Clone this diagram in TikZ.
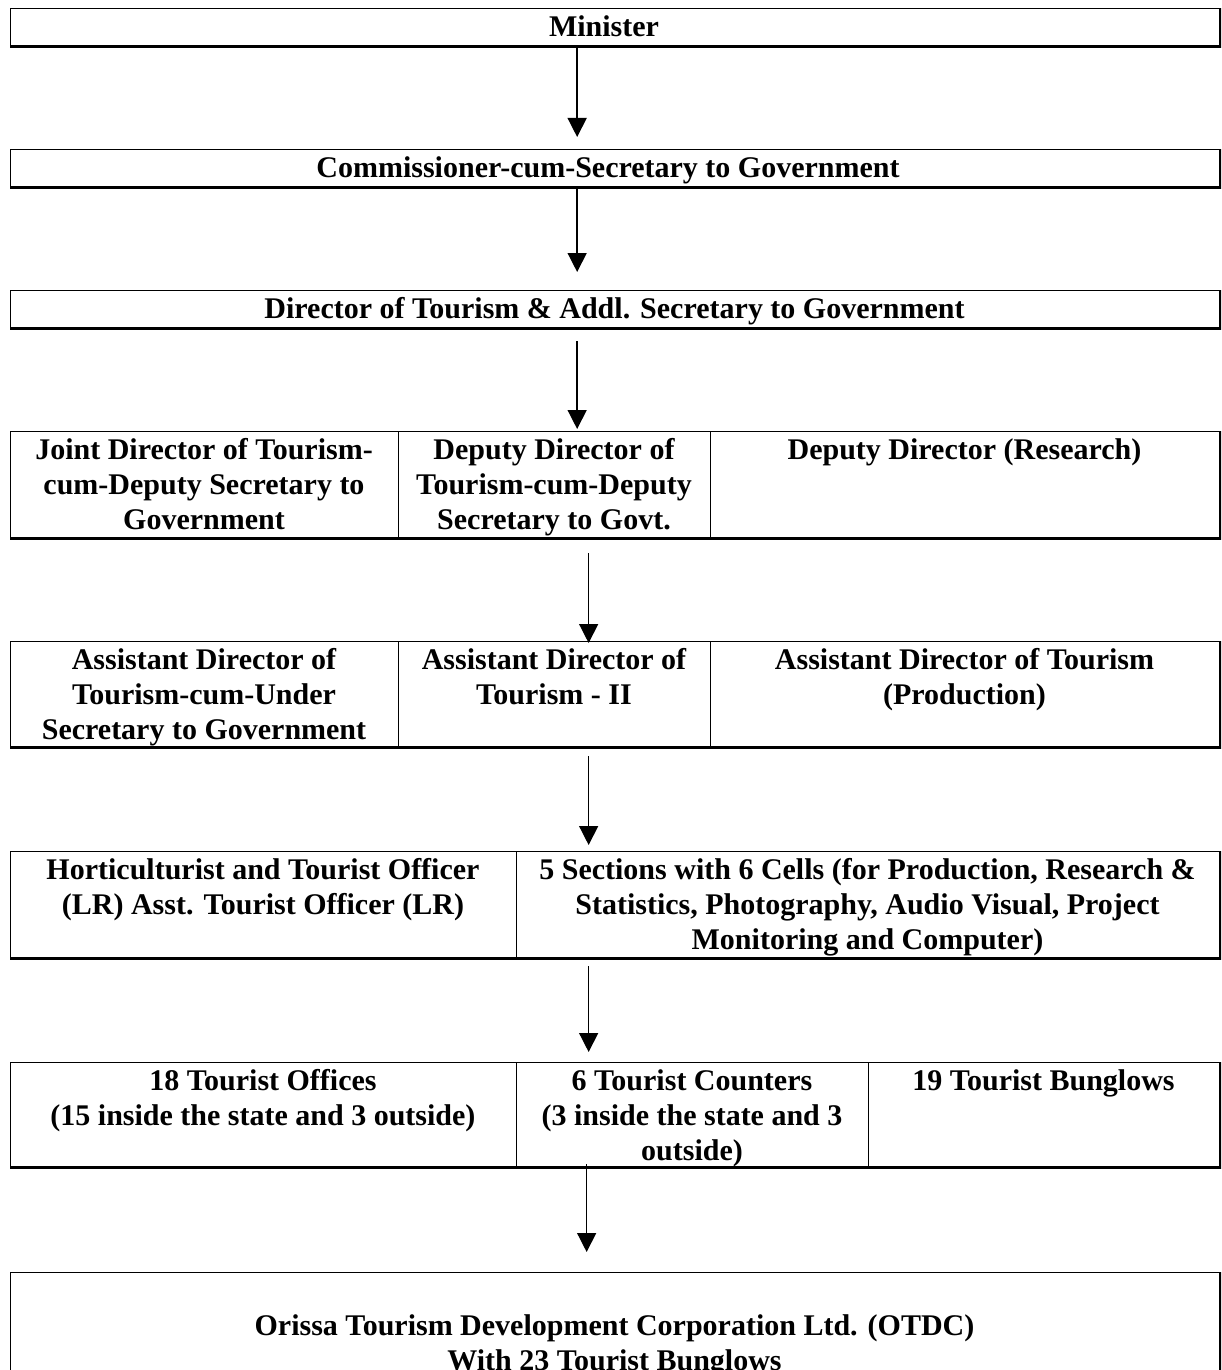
\documentclass[tikz,border=0pt]{standalone}
\usepackage{fontspec}
\setmainfont{Liberation Serif}
\usetikzlibrary{arrows.meta}
\begin{document}
\begin{tikzpicture}[x=1pt,y=-1pt,
  frame/.style={draw, line width=1.3pt, anchor=north west, inner sep=0pt, minimum width=1209pt},
  heavy/.style={line width=3pt},
  divider/.style={line width=1pt},
  txt/.style={anchor=north, align=center, inner sep=0pt, font=\fontsize{30}{35}\selectfont\bfseries},
  arr/.style={line width=1.4pt, -{Triangle[length=19pt,width=19pt]}}]
\useasboundingbox (0,0) rectangle (1221,1370);
\clip (0,0) rectangle (1221,1370);

% Row 1
\node[frame, minimum height=37pt] (b1) at (10,8) {};
\draw[heavy] (b1.south west) -- (b1.south east) -- (b1.north east);
\node[txt] (t1) at (604,15) {Minister};

% Row 2
\node[frame, minimum height=37pt] (b2) at (10,149) {};
\draw[heavy] (b2.south west) -- (b2.south east) -- (b2.north east);
\node[txt] (t2) at (608,156) {Commissioner-cum-Secretary to Government};

% Row 3
\node[frame, minimum height=37pt] (b3) at (10,290) {};
\draw[heavy] (b3.south west) -- (b3.south east) -- (b3.north east);
\node[txt] (t3) at (614.5,297) {Director of Tourism \& Addl. Secretary to Government};

% Row 4
\node[frame, minimum height=106pt] (b4) at (10,431) {};
\draw[heavy] (b4.south west) -- (b4.south east) -- (b4.north east);
\draw[divider] (398,431) -- (398,537);
\draw[divider] (710,431) -- (710,537);
\node[txt] (t4a) at (204,438) {Joint Director of Tourism-\\cum-Deputy Secretary to\\Government};
\node[txt] (t4b) at (554,438) {Deputy Director of\\Tourism-cum-Deputy\\Secretary to Govt.};
\node[txt] (t4c) at (964.5,438) {Deputy Director (Research)};

% Row 5
\node[frame, minimum height=105pt] (b5) at (10,641) {};
\draw[heavy] (b5.south west) -- (b5.south east) -- (b5.north east);
\draw[divider] (398,641) -- (398,746);
\draw[divider] (710,641) -- (710,746);
\node[txt] (t5a) at (204,648) {Assistant Director of\\Tourism-cum-Under\\Secretary to Government};
\node[txt] (t5b) at (554,648) {Assistant Director of\\Tourism - II};
\node[txt] (t5c) at (964.5,648) {Assistant Director of Tourism\\(Production)};

% Row 6
\node[frame, minimum height=106pt] (b6) at (10,851) {};
\draw[heavy] (b6.south west) -- (b6.south east) -- (b6.north east);
\draw[divider] (516,851) -- (516,957);
\node[txt] (t6a) at (263,858) {Horticulturist and Tourist Officer\\(LR) Asst. Tourist Officer (LR)};
\node[txt] (t6b) at (867.5,858) {5 Sections with 6 Cells (for Production, Research \&\\Statistics, Photography, Audio Visual, Project\\Monitoring and Computer)};

% Row 7
\node[frame, minimum height=104pt] (b7) at (10,1062) {};
\draw[heavy] (b7.south west) -- (b7.south east) -- (b7.north east);
\draw[divider] (516,1062) -- (516,1166);
\draw[divider] (868,1062) -- (868,1166);
\node[txt] (t7a) at (263,1069) {18 Tourist Offices\\(15 inside the state and 3 outside)};
\node[txt] (t7b) at (692,1069) {6 Tourist Counters\\(3 inside the state and 3\\outside)};
\node[txt] (t7c) at (1043.5,1069) {19 Tourist Bunglows};

% Row 8
\node[frame, minimum height=140pt] (b8) at (10,1272) {};
\draw[heavy] (b8.south west) -- (b8.south east) -- (b8.north east);
\node[txt] (t8) at (614.5,1314) {Orissa Tourism Development Corporation Ltd. (OTDC)\\With 23 Tourist Bunglows};

% Arrows
\draw[arr] ([xshift=-38pt]b1.south) -- ([xshift=-38pt,yshift=12pt]b2.north);
\draw[arr] ([xshift=-38pt]b2.south) -- ([xshift=-38pt,yshift=18pt]b3.north);
\draw[arr] ([xshift=-38pt,yshift=-13pt]b3.south) -- ([xshift=-38pt,yshift=2pt]b4.north);
\draw[arr] ([xshift=-26.5pt,yshift=-15pt]b4.south) -- ([xshift=-26.5pt,yshift=-2pt]b5.north);
\draw[arr] ([xshift=-26.5pt,yshift=-9pt]b5.south) -- ([xshift=-26.5pt,yshift=6pt]b6.north);
\draw[arr] ([xshift=-26.5pt,yshift=-8pt]b6.south) -- ([xshift=-26.5pt,yshift=10pt]b7.north);
\draw[arr] ([xshift=-28.5pt,yshift=3pt]b7.south) -- ([xshift=-28.5pt,yshift=20pt]b8.north);
\end{tikzpicture}
\end{document}
